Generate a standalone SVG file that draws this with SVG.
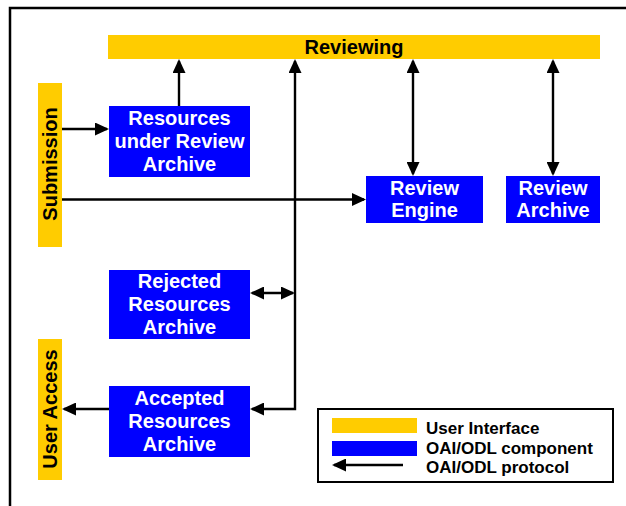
<svg xmlns="http://www.w3.org/2000/svg" width="626" height="506" viewBox="0 0 626 506">
  <style>
    .ui { fill: #FFCC00; }
    .comp { fill: #0000FF; }
    .lbl { font-family: "Liberation Sans", Arial, sans-serif; font-weight: bold; font-size: 20px; text-anchor: middle; }
    .w { fill: #FFFFFF; }
    .k { fill: #000000; }
    .conn { fill: none; stroke: #000000; stroke-width: 2.4; }
    .leg { font-family: "Liberation Sans", Arial, sans-serif; font-weight: bold; font-size: 17px; fill: #000000; }
  </style>
  <defs>
    <marker id="head" viewBox="0 0 14 13" refX="12" refY="6.5" markerWidth="14" markerHeight="13" markerUnits="userSpaceOnUse" orient="auto-start-reverse">
      <path d="M0,0 L14,6.5 L0,13 Z" fill="#000000"/>
    </marker>
  </defs>

  <rect width="626" height="506" fill="#FFFFFF"/>
  <!-- page frame -->
  <path d="M10,506 V8 H626" fill="none" stroke="#000000" stroke-width="2.5"/>

  <g id="reviewing">
    <rect class="ui" x="108" y="35" width="492" height="24"/>
    <text class="lbl k" x="354" y="53.5">Reviewing</text>
  </g>

  <g id="submission">
    <rect class="ui" x="38" y="83" width="24" height="164"/>
    <text class="lbl k" transform="translate(57,164) rotate(-90)">Submission</text>
  </g>

  <g id="user-access">
    <rect class="ui" x="38" y="339" width="24" height="141"/>
    <text class="lbl k" transform="translate(57,409) rotate(-90)">User Access</text>
  </g>

  <g id="resources-under-review">
    <rect class="comp" x="109" y="106" width="141" height="71"/>
    <text class="lbl w" x="179.5" y="124.5">Resources</text>
    <text class="lbl w" x="179.5" y="147.5">under Review</text>
    <text class="lbl w" x="179.5" y="170.5">Archive</text>
  </g>

  <g id="review-engine">
    <rect class="comp" x="366" y="176" width="117" height="47"/>
    <text class="lbl w" x="424.5" y="194.5">Review</text>
    <text class="lbl w" x="424.5" y="216.5">Engine</text>
  </g>

  <g id="review-archive">
    <rect class="comp" x="506" y="176" width="94" height="47"/>
    <text class="lbl w" x="553" y="194.5">Review</text>
    <text class="lbl w" x="553" y="216.5">Archive</text>
  </g>

  <g id="rejected">
    <rect class="comp" x="109" y="270" width="141" height="69"/>
    <text class="lbl w" x="179.5" y="288">Rejected</text>
    <text class="lbl w" x="179.5" y="311">Resources</text>
    <text class="lbl w" x="179.5" y="334">Archive</text>
  </g>

  <g id="accepted">
    <rect class="comp" x="109" y="386" width="141" height="71"/>
    <text class="lbl w" x="179.5" y="404.5">Accepted</text>
    <text class="lbl w" x="179.5" y="427.5">Resources</text>
    <text class="lbl w" x="179.5" y="450.5">Archive</text>
  </g>

  <g id="connectors">
    <line class="conn" x1="62" y1="129" x2="107" y2="129" marker-end="url(#head)"/>
    <line class="conn" x1="179" y1="106" x2="179" y2="61" marker-end="url(#head)"/>
    <path class="conn" d="M252,409 H295 V61" marker-start="url(#head)" marker-end="url(#head)"/>
    <line class="conn" x1="252" y1="293" x2="293" y2="293" marker-start="url(#head)" marker-end="url(#head)"/>
    <line class="conn" x1="62" y1="199.5" x2="364" y2="199.5" marker-end="url(#head)"/>
    <line class="conn" x1="413" y1="61" x2="413" y2="174" marker-start="url(#head)" marker-end="url(#head)"/>
    <line class="conn" x1="553" y1="61" x2="553" y2="174" marker-start="url(#head)" marker-end="url(#head)"/>
    <line class="conn" x1="109" y1="409" x2="64" y2="409" marker-end="url(#head)"/>
  </g>

  <g id="legend">
    <rect x="318" y="409" width="295" height="73" fill="#FFFFFF" stroke="#000000" stroke-width="2"/>
    <rect class="ui" x="332" y="418" width="85" height="15"/>
    <rect class="comp" x="332" y="441" width="85" height="15"/>
    <line class="conn" x1="403" y1="465" x2="334" y2="465" marker-end="url(#head)"/>
    <text class="leg" x="426" y="434">User Interface</text>
    <text class="leg" x="426" y="454">OAI/ODL component</text>
    <text class="leg" x="426" y="473">OAI/ODL protocol</text>
  </g>
</svg>
